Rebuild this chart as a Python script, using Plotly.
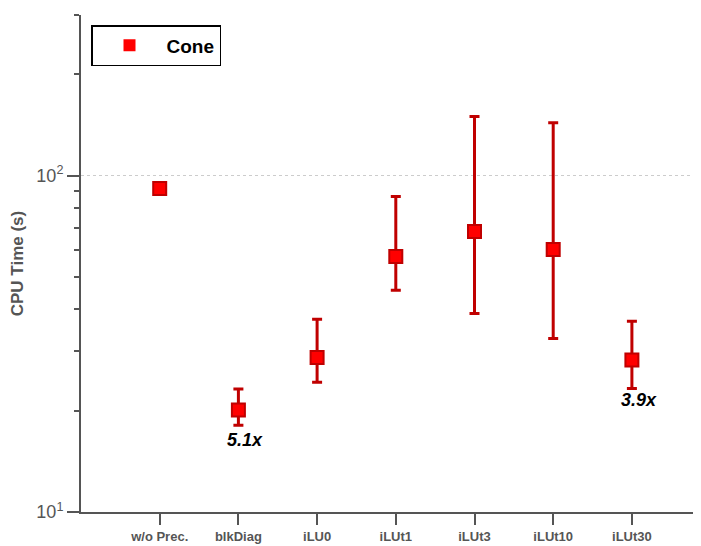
import plotly.graph_objects as go
import math

categories = ["w/o Prec.", "blkDiag", "iLU0", "iLUt1", "iLUt3", "iLUt10", "iLUt30"]
cpu_time = [91.5, 20.1, 28.8, 57.5, 68.2, 60.3, 28.3]
upper = [91.5, 23.2, 37.4, 86.6, 149.7, 143.6, 36.9]
lower = [91.5, 18.1, 24.3, 45.6, 38.9, 32.8, 23.3]
speedup_labels = [("blkDiag", "5.1x", 16.4), ("iLUt30", "3.9x", 21.5)]

xpos = list(range(1, len(categories) + 1))
err_plus = [u - v for u, v in zip(upper, cpu_time)]
err_minus = [v - l for v, l in zip(cpu_time, lower)]

axis_col = "#555555"
dark_red = "#c00000"

fig = go.Figure()
fig.add_trace(go.Scatter(
    x=xpos, y=cpu_time, mode="markers", name="Cone", showlegend=False,
    marker=dict(symbol="square", size=13, color="#ff0000",
                line=dict(color=dark_red, width=2)),
    error_y=dict(type="data", symmetric=False, array=err_plus, arrayminus=err_minus,
                 color=dark_red, thickness=3, width=5),
))
fig.add_trace(go.Scatter(
    x=[None], y=[None], mode="markers", name="Cone",
    marker=dict(symbol="square", size=12, color="#ff0000", line=dict(width=0)),
))

for cat, txt, yv in speedup_labels:
    fig.add_annotation(x=xpos[categories.index(cat)], y=math.log10(yv), text=txt,
                       showarrow=False, xshift=7,
                       font=dict(family="Liberation Sans, Arial", size=18, color="black",
                                 weight="bold", style="italic"))

minor_vals = [m * 10 for m in range(2, 10)] + [m * 100 for m in range(2, 4)]

plot_w = 628
fig.update_layout(
    width=73 + plot_w, height=538,
    margin=dict(l=73, r=0, t=7, b=34),
    plot_bgcolor="white", paper_bgcolor="white",
    font=dict(family="Liberation Sans, Arial", color=axis_col),
    legend=dict(x=10 / plot_w, y=1 - 10 / 497, xanchor="left", yanchor="top",
                bordercolor="black", borderwidth=1.5, bgcolor="white",
                itemwidth=64, tracegroupgap=0,
                font=dict(size=19, color="black", weight="bold")),
    xaxis=dict(range=[0, plot_w / 78.7], tickmode="array", tickvals=xpos, ticktext=categories,
               showline=True, linecolor=axis_col, linewidth=2, showgrid=False,
               zeroline=False, ticks="outside", ticklen=11, tickwidth=2, tickcolor=axis_col,
               tickfont=dict(size=13, color=axis_col, weight="bold")),
    yaxis=dict(type="log", range=[1, math.log10(300)],
               tickmode="array", tickvals=[10, 100], ticktext=["10<sup>1</sup>", "10<sup>2</sup>"],
               showline=True, linecolor=axis_col, linewidth=2,
               showgrid=True, gridcolor="#cccccc", griddash="dot", gridwidth=1,
               ticks="outside", ticklen=12, tickwidth=2, tickcolor=axis_col,
               tickfont=dict(size=18, color=axis_col),
               minor=dict(tickmode="array", tickvals=minor_vals, ticks="outside",
                          ticklen=5, tickwidth=2, tickcolor=axis_col, showgrid=False),
               title=dict(text="CPU Time (s)", standoff=10,
                          font=dict(size=17, color=axis_col, weight="bold"))),
)

fig.write_html("out.html")
